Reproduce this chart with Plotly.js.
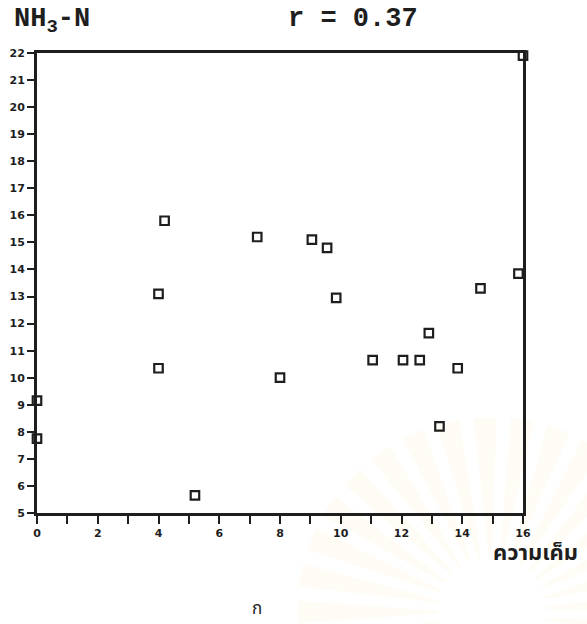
<!DOCTYPE html>
<html>
<head>
<meta charset="utf-8">
<script src="https://cdn.plot.ly/plotly-3.0.1.min.js"></script>
<style>
  html, body { margin: 0; padding: 0; background: #fff; }
  #chart { width: 587px; height: 624px; }
</style>
</head>
<body>
<div id="chart"></div>
<script>
// Salinity (x) against NH3-N (y), one marker per sample
const salinity = [0, 0, 4.0, 4.0, 4.2, 5.2, 7.25, 8.0, 9.05, 9.55, 9.85, 11.05, 12.05, 12.6, 12.9, 13.25, 13.85, 14.6, 15.85, 16];
const nh3n     = [9.15, 7.75, 10.35, 13.1, 15.8, 5.65, 15.2, 10.0, 15.1, 14.8, 12.95, 10.65, 10.65, 10.65, 11.65, 8.2, 10.35, 13.3, 13.85, 21.9];

const xTickVals = [0, 2, 4, 6, 8, 10, 12, 14, 16];
const xTickText = ['0', '2', '4', '6', '8', '10', '12', '14', '16'];
const yTickVals = [5, 6, 7, 8, 9, 10, 11, 12, 13, 14, 15, 16, 17, 18, 19, 20, 21, 22];
const yTickText = ['5', '6', '7', '8', '9', '10', '11', '12', '13', '14', '15', '16', '17', '18', '19', '20', '21', '22'];

const yLabel = 'NH<sub>3</sub>-N';
const corrLabel = 'r = 0.37';
const xLabel = 'ความเค็ม';
const panelLabel = 'ก';

const ink = '#1e1e1e';
const tickFont = { family: 'DejaVu Sans', size: 11, color: ink, weight: 'bold' };
const monoFont = { family: 'Liberation Mono', size: 27, color: ink, weight: 'bold' };
const thaiFont = { family: 'Noto Sans Thai, Loma, Garuda, Tlwg Typo, DejaVu Sans, sans-serif', size: 22, color: ink, weight: 'bold' };

// plot-area geometry (pixels) used to place the paper-level decorations
const M = { l: 37, r: 64, t: 53, b: 111 };
const W = 587, H = 624;
const PW = W - M.l - M.r, PH = H - M.t - M.b;
const px = v => (v - M.l) / PW;
const py = v => (H - M.b - v) / PH;

// faint emblem rays printed on the page behind the lower-right corner
function rays() {
  const cx = 492, cy = 612, r0 = 55, r1 = 195, half = 3.4 * Math.PI / 180;
  const out = [];
  for (let a = -40; a <= 200; a += 11) {
    const t = a * Math.PI / 180;
    const p = (r, ang) => `${px(cx + r * Math.cos(ang)).toFixed(4)},${py(cy - r * Math.sin(ang)).toFixed(4)}`;
    out.push({
      type: 'path', xref: 'paper', yref: 'paper', layer: 'below',
      path: `M${p(r0, t - half * 0.4)} L${p(r1, t - half)} L${p(r1, t + half)} L${p(r0, t + half * 0.4)} Z`,
      fillcolor: 'rgba(248,234,190,0.16)', line: { width: 0 }
    });
  }
  return out;
}

const trace = {
  type: 'scatter',
  mode: 'markers',
  x: salinity,
  y: nh3n,
  cliponaxis: false,
  marker: { symbol: 'square-open', size: 8.5, color: ink, line: { width: 2.2, color: ink } },
  hoverinfo: 'x+y'
};

const axisCommon = {
  showgrid: false,
  zeroline: false,
  showline: true,
  linecolor: ink,
  linewidth: 3,
  mirror: true,
  ticks: 'outside',
  tickcolor: ink,
  tickwidth: 2,
  ticklen: 8,
  tickfont: tickFont,
  fixedrange: true
};

const layout = {
  width: W,
  height: H,
  margin: M,
  paper_bgcolor: '#ffffff',
  plot_bgcolor: 'rgba(0,0,0,0)',
  showlegend: false,
  xaxis: Object.assign({}, axisCommon, {
    range: [0, 16],
    tickmode: 'array',
    tickvals: xTickVals,
    ticktext: xTickText,
    ticklabelstandoff: 0,
    minor: { dtick: 1, ticks: 'outside', ticklen: 8, tickwidth: 2, tickcolor: ink, showgrid: false }
  }),
  yaxis: Object.assign({}, axisCommon, {
    range: [5, 22],
    tickmode: 'array',
    tickvals: yTickVals,
    ticktext: yTickText,
    ticklen: 7
  }),
  shapes: rays(),
  annotations: [
    { text: yLabel, xref: 'paper', yref: 'paper', x: px(12), y: py(40), xanchor: 'left', yanchor: 'bottom',
      showarrow: false, font: monoFont },
    { text: corrLabel, xref: 'paper', yref: 'paper', x: px(286), y: py(36), xanchor: 'left', yanchor: 'bottom',
      showarrow: false, font: monoFont },
    { text: xLabel, xref: 'paper', yref: 'paper', x: px(491), y: py(535), xanchor: 'left', yanchor: 'top',
      showarrow: false, font: thaiFont },
    { text: panelLabel, xref: 'paper', yref: 'paper', x: px(257), y: py(624), xanchor: 'center', yanchor: 'bottom',
      showarrow: false, font: { family: 'Noto Sans Thai, Loma, Garuda, DejaVu Sans, sans-serif', size: 17, color: ink } }
  ]
};

Plotly.newPlot('chart', [trace], layout, { displayModeBar: false, staticPlot: true });
</script>
</body>
</html>
